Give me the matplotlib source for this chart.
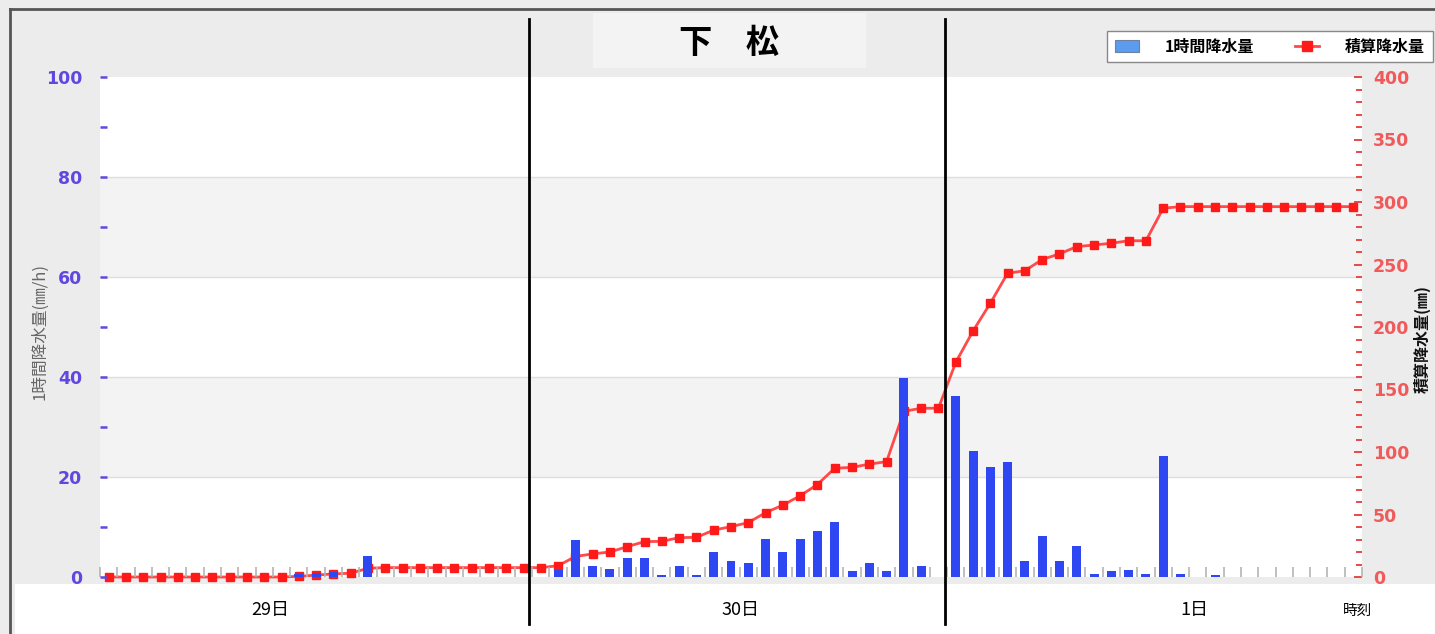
import numpy as np
import matplotlib
matplotlib.use("Agg")
import matplotlib.pyplot as plt
from matplotlib.patches import Rectangle, Patch
from matplotlib.lines import Line2D
from matplotlib.font_manager import FontProperties

CJK = ['Noto Sans CJK JP', 'DejaVu Sans']
plt.rcParams['font.family'] = CJK

# ---------------- data ----------------
title = "下　松"
day_labels = ["29日", "30日", "1日"]
time_label = "時刻"
left_label = "1時間降水量(㎜/h)"
right_label = "積算降水量(㎜)"
legend_labels = ["1時間降水量", "積算降水量"]

# hourly rainfall (mm/h), 29日0時 .. 2日0時 (73 points)
rain = [0, 0, 0, 0, 0, 0, 0, 0, 0, 0, 0,
        0.7, 0.9, 1.0, 0, 4.2, 0, 0, 0, 0, 0, 0, 0, 0, 0, 0,
        1.5, 7.4, 2.3, 1.6, 3.9, 3.9, 0.4, 2.3, 0.4, 5.1, 3.2, 2.9,
        7.6, 5.1, 7.6, 9.2, 11.1, 1.3, 2.9, 1.3, 39.8, 2.3, 0,
        36.3, 25.3, 22.1, 23.1, 3.2, 8.2, 3.2, 6.3, 0.6, 1.3, 1.5, 0.6,
        24.3, 0.6, 0, 0.4, 0, 0, 0, 0, 0, 0, 0, 0]

# cumulative rainfall (mm)
cum = [0, 0, 0, 0, 0, 0, 0, 0, 0, 0, 0,
       0.5, 1.5, 2.5, 3, 7, 7.5, 7.5, 7.5, 7.5, 7.5, 7.5, 7.5, 7.5, 7.5, 7.5,
       9, 16.4, 18.5, 20, 24.3, 28.3, 28.5, 31.5, 31.7, 37.5, 40.3, 43.5,
       51.5, 57.5, 65, 74, 87, 87.7, 90.3, 92.3, 132.5, 135, 135,
       171.7, 196.8, 219, 243, 245, 254, 258.5, 264.3, 265.6, 267, 269, 269,
       295, 296.3, 296.3, 296.3, 296.3, 296.3, 296.3, 296.3, 296.3, 296.3, 296.3, 296.3]

left_ticks = [0, 20, 40, 60, 80, 100]
right_ticks = [0, 50, 100, 150, 200, 250, 300, 350, 400]

# ---------------- layout helpers ----------------
W, H = 1435, 634
def fx(p):
    return p / W
def fy(p):
    return 1 - p / H

fig = plt.figure(figsize=(W / 100, H / 100), dpi=100, facecolor='#ececec')
ax = fig.add_axes([fx(100), fy(577), fx(1362) - fx(100), fy(77) - fy(577)])
ax2 = ax.twinx()
ax.set_zorder(ax2.get_zorder() + 1)
ax.patch.set_visible(False)
ax2.patch.set_visible(True)
ax2.set_facecolor('white')

x = np.arange(len(rain))
ax.set_xlim(-0.5, len(rain) - 0.5)
ax.set_ylim(0, 100)
ax2.set_ylim(0, 400)

# background bands + grid (on ax2, scale x4)
for lo in (80, 240):
    ax2.axhspan(lo, lo + 80, color='#f3f3f3', zorder=0, lw=0)
for g in (80, 160, 240, 320):
    ax2.axhline(g, color='#dedede', lw=1, zorder=0.5)

# cumulative line
ax2.plot(x, cum, color='#ff4a4a', lw=2, marker='s', ms=6,
         mfc='#ff1a1a', mec='#ff1a1a', clip_on=False, zorder=3)

# hourly bars
ax.bar(x, rain, width=0.52, color='#2f47f2', edgecolor='none', zorder=3)

# ticks
for a in (ax, ax2):
    for s in a.spines.values():
        s.set_visible(False)

ax.set_yticks(left_ticks)
ax.set_yticks(np.arange(10, 100, 20), minor=True)
ax.tick_params(axis='y', which='both', direction='in', color='#6047e0',
               width=1.8, labelcolor='#6047e0', labelsize=12.5, pad=13)
ax.tick_params(axis='y', which='major', length=5)
ax.tick_params(axis='y', which='minor', length=5)
for t in ax.get_yticklabels():
    t.set_fontweight('bold')
    t.set_family('DejaVu Sans')

ax.set_xticks([])
ax.set_xticks(np.arange(-0.5, len(rain), 1), minor=True)
ax.tick_params(axis='x', which='minor', direction='in', length=7, width=1.2,
               color='#b5b5b5', labelbottom=False)

ax2.set_yticks(right_ticks)
ax2.set_yticks(np.arange(0, 401, 10), minor=True)
ax2.tick_params(axis='y', which='both', direction='in', color='#e84848',
                width=1.4, labelcolor='#f05a5a', labelsize=12.5, pad=8)
ax2.tick_params(axis='y', which='major', length=6)
ax2.tick_params(axis='y', which='minor', length=4)
for t in ax2.get_yticklabels():
    t.set_fontweight('bold')
    t.set_family('DejaVu Sans')
ax2.set_xticks([])

# axis titles
fig.text(fx(40), fy(332), left_label, rotation=90, ha='center', va='center',
         fontsize=12, color='#666666', family=CJK)
fig.text(fx(1422), fy(339), right_label, rotation=90, ha='center', va='center',
         fontsize=11.5, color='#111111', fontweight='bold', family=CJK)

# legend
handles = [Patch(facecolor='#5b9cf0', edgecolor='#70809a', lw=0.8),
           Line2D([], [], color='#ff4a4a', lw=2, marker='s', ms=7,
                  mfc='#ff1a1a', mec='#ff1a1a')]
leg = fig.legend(handles, legend_labels, loc='center',
                 bbox_to_anchor=(fx(1270), fy(46.5)), ncol=2, frameon=True,
                 fancybox=False, edgecolor='#888888', facecolor='white',
                 framealpha=1,
                 prop=FontProperties(family=CJK, size=11.5, weight='bold'),
                 handlelength=1.5, handleheight=0.8, handletextpad=1.6,
                 columnspacing=2.6, borderpad=0.5, borderaxespad=0)
leg.set_zorder(20)

# title box
fig.add_artist(Rectangle((fx(593), fy(68)), (866 - 593) / W, (68 - 13) / H,
                         transform=fig.transFigure, facecolor='#f3f3f3',
                         edgecolor='none', zorder=1))
fig.text(fx(729), fy(43), title, ha='center', va='center', fontsize=24,
         fontweight='bold', color='black', family=CJK, zorder=2)

# outer frame
fig.add_artist(Line2D([fx(10), 1], [fy(9), fy(9)], color='#555555', lw=2,
                      transform=fig.transFigure, zorder=30))
fig.add_artist(Line2D([fx(10), fx(10)], [fy(9), 0], color='#555555', lw=2,
                      transform=fig.transFigure, zorder=30))

# bottom white strip with day labels
fig.add_artist(Rectangle((fx(15), 0), 1 - fx(15), fy(584),
                         transform=fig.transFigure, facecolor='white',
                         edgecolor='none', zorder=25))
for lbl, px in zip(day_labels, (270, 740, 1194)):
    fig.text(fx(px), fy(610), lbl, ha='center', va='center', fontsize=13,
             color='black', family=CJK, zorder=26)
fig.text(fx(1358), fy(611), time_label, ha='center', va='center', fontsize=10.5,
         color='black', family=CJK, zorder=26)

# day separator lines
for px in (529, 945):
    fig.add_artist(Line2D([fx(px), fx(px)], [fy(19), fy(624)], color='black',
                          lw=2, transform=fig.transFigure, zorder=28))

fig.savefig("out.png", dpi=100, facecolor=fig.get_facecolor())
